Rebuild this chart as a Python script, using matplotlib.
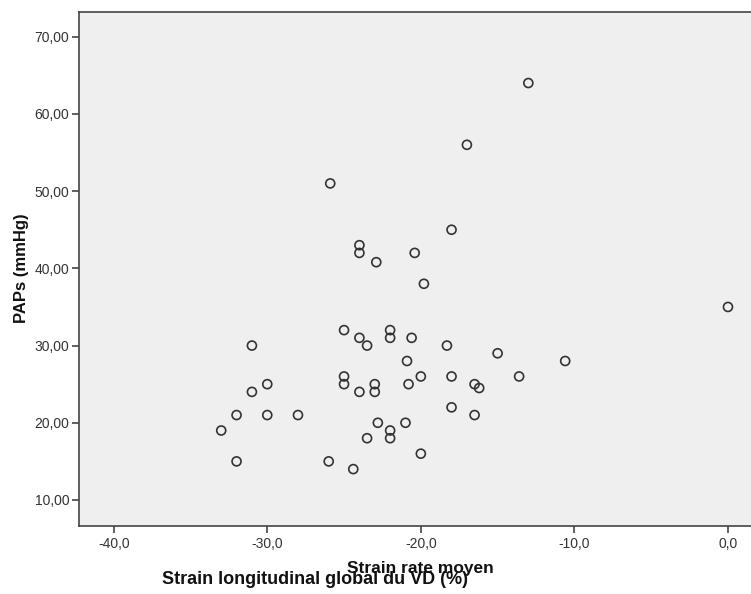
import matplotlib
matplotlib.use("Agg")
import matplotlib.pyplot as plt

plt.rcParams['font.family'] = ['Liberation Sans', 'DejaVu Sans']

# Strain longitudinal global du VD (%) vs PAPs (mmHg)
strain = [-25.9, -24.0, -24.0, -22.9, -13.0, -17.0, -18.0, -20.4, -19.8,
          -31.0, -31.0, -30.0, -30.0, -32.0, -33.0, -32.0, -28.0, -26.0, -24.4,
          -25.0, -24.0, -23.5, -22.0, -22.0, -25.0, -25.0, -24.0, -23.0, -23.0,
          -22.8, -23.5, -22.0, -22.0, 0.0, -20.6, -18.3, -15.0, -10.6, -20.9,
          -20.0, -18.0, -13.6, -20.8, -16.5, -16.2, -18.0, -16.5, -21.0, -20.0]
paps = [51, 43, 42, 40.8, 64, 56, 45, 42, 38,
        30, 24, 25, 21, 21, 19, 15, 21, 15, 14,
        32, 31, 30, 32, 31, 26, 25, 24, 25, 24,
        20, 18, 19, 18, 35, 31, 30, 29, 28, 28,
        26, 26, 26, 25, 25, 24.5, 22, 21, 20, 16]

x_ticks = [-40, -30, -20, -10, 0]
x_tick_labels = ["-40,0", "-30,0", "-20,0", "-10,0", "0,0"]
y_ticks = [10, 20, 30, 40, 50, 60, 70]
y_tick_labels = ["10,00", "20,00", "30,00", "40,00", "50,00", "60,00", "70,00"]

fig = plt.figure(figsize=(7.51, 5.94), dpi=100)
ax = fig.add_axes([79/751, 1 - 525.7/594, 1 - 79/751, (525.7 - 12)/594])
ax.set_facecolor("#efefef")

ax.scatter(strain, paps, s=42, facecolors="none", edgecolors="#333333", linewidths=1.2, zorder=3)

ax.set_xlim(-42.26, 1.5)
ax.set_ylim(6.67, 73.2)
ax.set_xticks(x_ticks)
ax.set_xticklabels(x_tick_labels)
ax.set_yticks(y_ticks)
ax.set_yticklabels(y_tick_labels)
ax.tick_params(direction="out", length=5, width=1.2, color="#444444", labelsize=10, labelcolor="#333333")
ax.tick_params(axis="x", pad=3)
ax.tick_params(axis="y", pad=2)

for side in ["left", "bottom", "top"]:
    ax.spines[side].set_color("#444444")
    ax.spines[side].set_linewidth(1.2)
ax.spines["right"].set_visible(False)

fig.text(22/751, 1 - 268/594, "PAPs (mmHg)", rotation=90, ha="center", va="center",
         fontsize=12, fontweight="bold", color="#111111")

# two overlapping x-axis titles, as in the original
fig.text(420/751, 1 - 569/594, "Strain rate moyen", ha="center", va="center",
         fontsize=12.5, fontweight="bold", color="#111111")
fig.text(315/751, 1 - 579/594, "Strain longitudinal global du VD (%)", ha="center", va="center",
         fontsize=13, fontweight="bold", color="#111111")

plt.savefig("out.png", dpi=100)
